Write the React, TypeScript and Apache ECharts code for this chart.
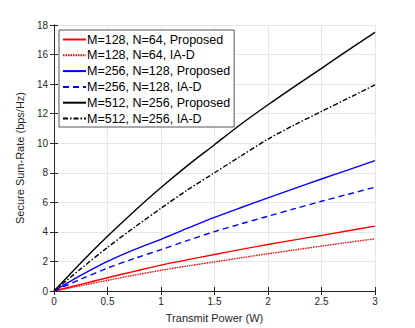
import React, { useEffect, useRef } from "react";
import * as echarts from "echarts";

const powers = [0, 0.25, 0.5, 0.75, 1, 1.25, 1.5, 1.75, 2, 2.25, 2.5, 2.75, 3];
const seriesNames = [
  "M=128, N=64, Proposed",
  "M=128, N=64, IA-D",
  "M=256, N=128, Proposed",
  "M=256, N=128, IA-D",
  "M=512, N=256, Proposed",
  "M=512, N=256, IA-D",
];
const red128Proposed = [0, 0.45, 0.9, 1.33, 1.75, 2.12, 2.47, 2.82, 3.15, 3.46, 3.76, 4.08, 4.39];
const red128IAD = [0, 0.36, 0.72, 1.07, 1.4, 1.7, 1.97, 2.25, 2.52, 2.78, 3.04, 3.29, 3.53];
const blue256Proposed = [0, 1.05, 2.0, 2.8, 3.5, 4.25, 4.98, 5.65, 6.3, 6.95, 7.58, 8.2, 8.82];
const blue256IAD = [0, 0.8, 1.55, 2.2, 2.8, 3.42, 4.02, 4.55, 5.06, 5.57, 6.07, 6.55, 7.02];
const black512Proposed = [0, 1.9, 3.7, 5.4, 7.0, 8.5, 9.9, 11.3, 12.6, 13.85, 15.07, 16.3, 17.5];
const black512IAD = [0, 1.5, 2.95, 4.3, 5.6, 6.85, 8.0, 9.15, 10.28, 11.25, 12.15, 13.05, 13.95];
const xTicks = { min: 0, max: 3, interval: 0.5 };
const yTicks = { min: 0, max: 18, interval: 2 };

const allValues = [red128Proposed, red128IAD, blue256Proposed, blue256IAD, black512Proposed, black512IAD];
const colors = ["#ff0000", "#ff0000", "#0000ff", "#0000ff", "#000000", "#000000"];
const dashes: any[] = ["solid", [1.5, 1], "solid", [6, 4], "solid", [5, 2, 1.5, 2]];

export default function App() {
  const ref = useRef<HTMLDivElement>(null);
  useEffect(() => {
    if (!ref.current) return;
    const chart = echarts.init(ref.current, undefined, { renderer: "svg" });
    const font = "Liberation Sans, Arial, Helvetica, sans-serif";
    const axisColor = "#262626";
    const baseAxis = {
      axisLine: { show: true, lineStyle: { color: axisColor, width: 1 } },
      axisTick: { show: true, inside: true, length: 4, lineStyle: { color: axisColor } },
    };
    chart.setOption({
      animation: false,
      backgroundColor: "#ffffff",
      textStyle: { fontFamily: font },
      grid: { left: 54, right: 40, top: 25, bottom: 36, show: false },
      legend: {
        orient: "vertical",
        left: 59,
        top: 30,
        padding: [3, 4, 2, 3],
        itemWidth: 23,
        itemHeight: 14,
        itemGap: 2.8,
        backgroundColor: "#ffffff",
        borderColor: "#555555",
        borderWidth: 1,
        borderRadius: 0,
        itemStyle: { opacity: 0 },
        textStyle: { fontSize: 12.5, color: "#000000", fontFamily: font, padding: [0, 0, 0, -4] },
        data: seriesNames,
      },
      xAxis: [
        {
          type: "value",
          min: xTicks.min,
          max: xTicks.max,
          interval: xTicks.interval,
          name: "Transmit Power (W)",
          nameLocation: "middle",
          nameGap: 21,
          nameTextStyle: { fontSize: 11, color: axisColor, fontFamily: font },
          axisLabel: { fontSize: 10, color: axisColor, margin: 5, fontFamily: font },
          splitLine: { show: true, lineStyle: { color: "#e6e6e6", width: 1 } },
          ...baseAxis,
        },
        {
          type: "value",
          position: "top",
          min: xTicks.min,
          max: xTicks.max,
          interval: xTicks.interval,
          axisLabel: { show: false },
          splitLine: { show: false },
          ...baseAxis,
        },
      ],
      yAxis: [
        {
          type: "value",
          min: yTicks.min,
          max: yTicks.max,
          interval: yTicks.interval,
          name: "Secure Sum-Rate (bps/Hz)",
          nameLocation: "middle",
          nameGap: 22,
          nameTextStyle: { fontSize: 11, color: axisColor, fontFamily: font },
          axisLabel: { fontSize: 10, color: axisColor, margin: 6, fontFamily: font },
          splitLine: { show: true, lineStyle: { color: "#e6e6e6", width: 1 } },
          ...baseAxis,
        },
        {
          type: "value",
          position: "right",
          min: yTicks.min,
          max: yTicks.max,
          interval: yTicks.interval,
          axisLabel: { show: false },
          splitLine: { show: false },
          ...baseAxis,
        },
      ],
      series: allValues.map((vals, i) => ({
        name: seriesNames[i],
        type: "line",
        xAxisIndex: 0,
        yAxisIndex: 0,
        data: powers.map((p, j) => [p, vals[j]]),
        smooth: 0.3,
        symbol: "none",
        color: colors[i],
        lineStyle: { color: colors[i], width: 1.4, type: dashes[i] },
      })),
    });
    return () => chart.dispose();
  }, []);
  return <div ref={ref} style={{ width: 415, height: 328, position: "absolute", left: 0, top: 0 }} />;
}
